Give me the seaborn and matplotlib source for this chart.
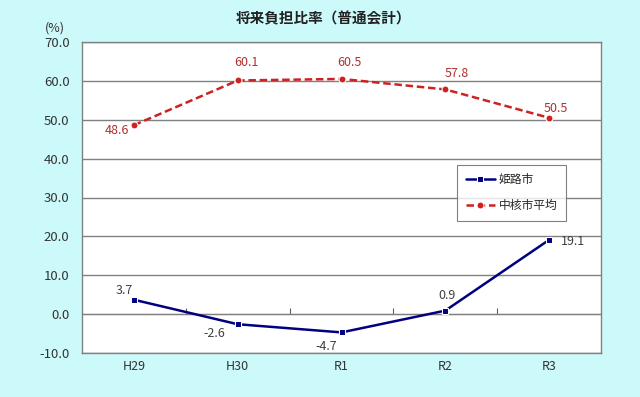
import pandas as pd
import seaborn as sns
import matplotlib.pyplot as plt

years = ['H29', 'H30', 'R1', 'R2', 'R3']
himeji = [3.7, -2.6, -4.7, 0.9, 19.1]
chukaku_avg = [48.6, 60.1, 60.5, 57.8, 50.5]
series_names = ['姫路市', '中核市平均']

df = pd.DataFrame({
    '年度': years * 2,
    '比率': himeji + chukaku_avg,
    '区分': [series_names[0]] * 5 + [series_names[1]] * 5,
})

sns.set_style('white')
plt.rcParams['font.family'] = ['Noto Sans CJK JP', 'DejaVu Sans']

bg = '#CCFAFA'
fig = plt.figure(figsize=(6.4, 3.97), dpi=100, facecolor=bg)
ax = fig.add_axes([82 / 640, 1 - 353 / 397, 519 / 640, 311 / 397])
ax.set_facecolor('white')

palette = {series_names[0]: '#000080', series_names[1]: '#CC2222'}
sns.lineplot(
    data=df, x='年度', y='比率', hue='区分', style='区分',
    palette=palette,
    dashes={series_names[0]: '', series_names[1]: (3, 1.5)},
    markers={series_names[0]: 's', series_names[1]: 'o'},
    markersize=5, linewidth=1.8, ax=ax, sort=False,
)

ax.set_xlim(-0.5, 4.5)
ax.set_ylim(-10, 70)
ax.set_yticks(range(-10, 71, 10))
ax.set_yticklabels([f'{v:.1f}' for v in range(-10, 71, 10)], fontsize=9.5, color='#333333')
ax.set_xticks(range(len(years)))
ax.set_xticklabels(years, fontsize=9, color='#333333')
ax.tick_params(axis='x', length=0, pad=5)
ax.tick_params(axis='y', length=0, pad=9)
ax.set_xlabel('')
ax.set_ylabel('')
ax.yaxis.grid(True, color='#808080', linewidth=1)
for s in ax.spines.values():
    s.set_color('#808080')
    s.set_linewidth(1)

# category axis crossing at 0
sec = ax.secondary_xaxis(10 / 80)
sec.set_xticks([0.5, 1.5, 2.5, 3.5])
sec.set_xticklabels([])
sec.tick_params(direction='in', length=4, color='#606060')
sec.spines['bottom'].set_color('#606060')

# data labels
red_off = [(-12, -4), (6.5, 13), (6, 11.5), (8.5, 11.5), (5, 6.5)]
navy_off = [(-7, 7), (-16.5, -7), (-11, -10), (1, 11), (17, -1)]
for i, v in enumerate(chukaku_avg):
    ax.annotate(f'{v:.1f}', (i, v), xytext=red_off[i], textcoords='offset points',
                ha='center', va='center', fontsize=9, color='#B03030')
for i, v in enumerate(himeji):
    ax.annotate(f'{v:.1f}', (i, v), xytext=navy_off[i], textcoords='offset points',
                ha='center', va='center', fontsize=9, color='#404040')

leg = ax.legend(loc='upper left', bbox_to_anchor=(0.723, 0.604), fontsize=8.5,
                frameon=True, fancybox=False, labelspacing=1.1, handlelength=2.5,
                borderpad=0.7, handletextpad=0.3, borderaxespad=0)
leg.get_frame().set_edgecolor('#606060')
leg.get_frame().set_linewidth(0.8)

fig.text(55 / 640, 1 - 28 / 397, '(%)', ha='center', va='center', fontsize=9, color='#333333')
fig.text(0.505, 1 - 18 / 397, '将来負担比率（普通会計）', ha='center', va='center',
         fontsize=10.5, fontweight='bold', color='#222222')

fig.savefig('out.png', dpi=100, facecolor=bg)
